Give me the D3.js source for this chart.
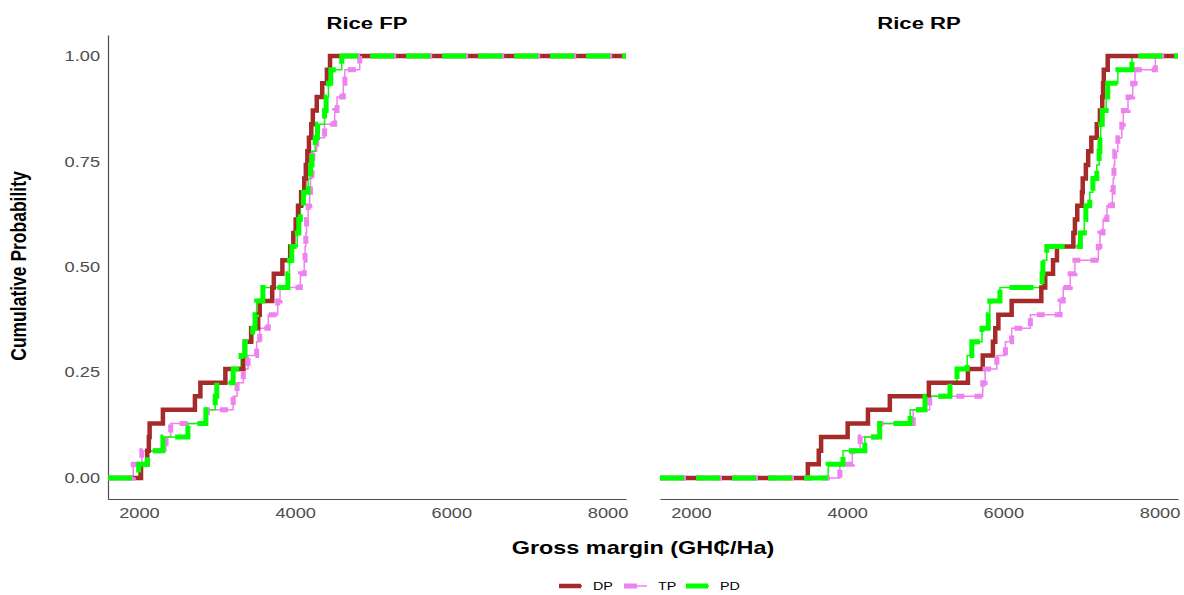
<html>
    <head>
        <title>ECDF gross margin</title>
        <style>
            body { margin: 0; background: #ffffff; }
            text { font-family: "Liberation Sans", Arial, sans-serif; }
        </style>
    </head>
    <body>

        <div id="chart-area"></div>

        <script src="https://d3js.org/d3.v7.min.js"></script>

        <script>

            // data (sorted gross margins per method)
            const panelNames = ["Rice FP", "Rice RP"]
            const methods = ["DP", "TP", "PD"]

            const fpDP = [2020, 2100, 2120, 2130, 2300, 2710, 2780, 3100, 3330, 3350, 3430, 3520, 3540, 3700, 3720, 3830,
                          3930, 3970, 4000, 4030, 4070, 4110, 4130, 4150, 4170, 4200, 4220, 4270, 4340, 4400, 4440]
            const fpTP = [1920, 2030, 2340, 2400, 2870, 3200, 3250, 3330, 3390, 3500, 3540, 3650, 3770, 3800, 4060, 4110,
                          4120, 4130, 4140, 4160, 4180, 4190, 4210, 4220, 4270, 4370, 4500, 4530, 4610, 4630, 4820]
            const fpPD = [1990, 2100, 2300, 2620, 2850, 2970, 2990, 3200, 3300, 3350, 3450, 3480, 3500, 3580, 3900, 3920,
                          3950, 4020, 4040, 4060, 4100, 4160, 4190, 4210, 4250, 4280, 4370, 4390, 4420, 4450, 4590]

            const rpDP = [3490, 3630, 3660, 4000, 4260, 4540, 5040, 5540, 5730, 5860, 5890, 5930, 6100, 6480, 6530, 6630,
                          6680, 6890, 6910, 6940, 7000, 7010, 7050, 7080, 7120, 7190, 7230, 7260, 7270, 7280, 7330]
            const rpTP = [3900, 4060, 4160, 4410, 4840, 5050, 5730, 5760, 5910, 6020, 6100, 6340, 6720, 6760, 6850, 6910,
                          7210, 7230, 7270, 7320, 7390, 7400, 7410, 7420, 7460, 7510, 7530, 7590, 7650, 7680, 7940]
            const rpPD = [3750, 3940, 4220, 4410, 4800, 4990, 5310, 5400, 5530, 5590, 5720, 5800, 5820, 5950, 6490, 6500,
                          6550, 6980, 7030, 7050, 7100, 7140, 7190, 7220, 7230, 7240, 7260, 7310, 7330, 7460, 7640]

            const xTicks = [2000, 4000, 6000, 8000]
            const yTicks = [0, 0.25, 0.5, 0.75, 1]
            const yTickLabels = ["0.00", "0.25", "0.50", "0.75", "1.00"]

            const panelData = [
                { DP: fpDP, TP: fpTP, PD: fpPD },
                { DP: rpDP, TP: rpTP, PD: rpPD }
            ]

            // layout
            const PANEL_W = 518
            const PANEL_H = 464
            const PANEL_TOP = 35
            const PANEL_LEFT = [108, 660]
            const STRETCH = 1.3   // the picture's text is drawn a bit wide

            const color = d3.scaleOrdinal()
                            .domain(methods)
                            .range(["#A52A2A", "#EE82EE", "#00FF00"])

            const dashes = { DP: null, TP: "8,10", PD: "24,12" }

            const svg = d3.select("#chart-area")
                    .append("svg")
                        .attr("width", 1184)
                        .attr("height", 595)

            // helper for stretched text
            function addText(parent, x, y, str, size, anchor, weight, fill, rotate) {
                return parent.append("text")
                    .attr("transform", `translate(${x}, ${y}) scale(${STRETCH}, 1)` + (rotate ? " rotate(-90)" : ""))
                    .attr("text-anchor", anchor)
                    .attr("font-size", size + "px")
                    .attr("font-weight", weight)
                    .attr("fill", fill)
                    .text(str)
            }

            // scales (shared by both panels)
            const x = d3.scaleLinear()
                        .domain([1597, 8230])
                        .range([0, PANEL_W])

            const y = d3.scaleLinear()
                        .domain([-0.05, 1.05])
                        .range([PANEL_H, 0])

            const line = d3.line()
                        .x(d => x(d[0]))
                        .y(d => y(d[1]))
                        .curve(d3.curveStepAfter)

            function ecdf(values) {
                const v = values.slice().sort(d3.ascending)
                const n = v.length
                const pts = [[x.domain()[0], 0]]
                v.forEach((d, i) => pts.push([d, (i + 1) / n]))
                pts.push([x.domain()[1], 1])
                return pts
            }

            panelNames.forEach((name, p) => {
                const g = svg.append("g")
                    .attr("transform", `translate(${PANEL_LEFT[p]}, ${PANEL_TOP})`)

                // panel title
                addText(svg, PANEL_LEFT[p] + PANEL_W / 2, 29, name, 17, "middle", "bold", "#000")

                // x axis
                const xAxis = d3.axisBottom(x)
                                .tickValues(xTicks)
                                .tickSize(0)
                                .tickFormat(d3.format("d"))

                g.append("g")
                    .attr("transform", `translate(0, ${PANEL_H})`)
                    .call(xAxis)
                    .call(a => a.select(".domain")
                        .attr("stroke", "#4d4d4d")
                        .attr("stroke-width", 1.2))
                    .selectAll("text").remove()

                xTicks.forEach(t => {
                    addText(g, x(t), PANEL_H + 19, d3.format("d")(t), 14, "middle", "normal", "#4d4d4d")
                })

                // y axis only on the first panel
                if (p === 0) {
                    const yAxis = d3.axisLeft(y)
                                .tickValues(yTicks)
                                .tickSize(0)
                                .tickFormat("")
                    g.append("g")
                        .call(yAxis)
                        .call(a => a.select(".domain")
                            .attr("stroke", "#4d4d4d")
                            .attr("stroke-width", 1.2))

                    yTicks.forEach((t, i) => {
                        addText(g, -8, y(t) + 5, yTickLabels[i], 14, "end", "normal", "#4d4d4d")
                    })
                }

                const data = panelData[p]

                // thin step lines first
                methods.forEach(m => {
                    g.append("path")
                        .attr("d", line(ecdf(data[m])))
                        .attr("fill", "none")
                        .attr("stroke", color(m))
                        .attr("stroke-width", 1.5)
                })

                // thick lines on top: DP solid, TP and PD dashed
                methods.forEach(m => {
                    g.append("path")
                        .attr("d", line(ecdf(data[m])))
                        .attr("fill", "none")
                        .attr("stroke", color(m))
                        .attr("stroke-width", m === "DP" ? 4.5 : 5)
                        .attr("stroke-dasharray", dashes[m])
                })
            })

            // axis titles
            addText(svg, 643, 554, "Gross margin (GH\u20B5/Ha)", 18, "middle", "bold", "#000")
            addText(svg, 26, 266, "Cumulative Probability", 17.5, "middle", "bold", "#000", true)

            // legend
            const legendX = [559, 624, 686]
            const legend = svg.append("g")
                        .attr("transform", "translate(0, 586)")

            methods.forEach((m, i) => {
                const row = legend.append("g")
                    .attr("transform", `translate(${legendX[i]}, 0)`)

                row.append("line")
                    .attr("x1", 0).attr("x2", 23)
                    .attr("stroke", color(m))
                    .attr("stroke-width", 1.5)
                row.append("line")
                    .attr("x1", 0).attr("x2", m === "TP" ? 13 : 22)
                    .attr("stroke", color(m))
                    .attr("stroke-width", m === "DP" ? 4.5 : 5)

                addText(row, 34, 4, m, 11, "start", "normal", "#000")
            })

        </script>
    </body>
</html>
